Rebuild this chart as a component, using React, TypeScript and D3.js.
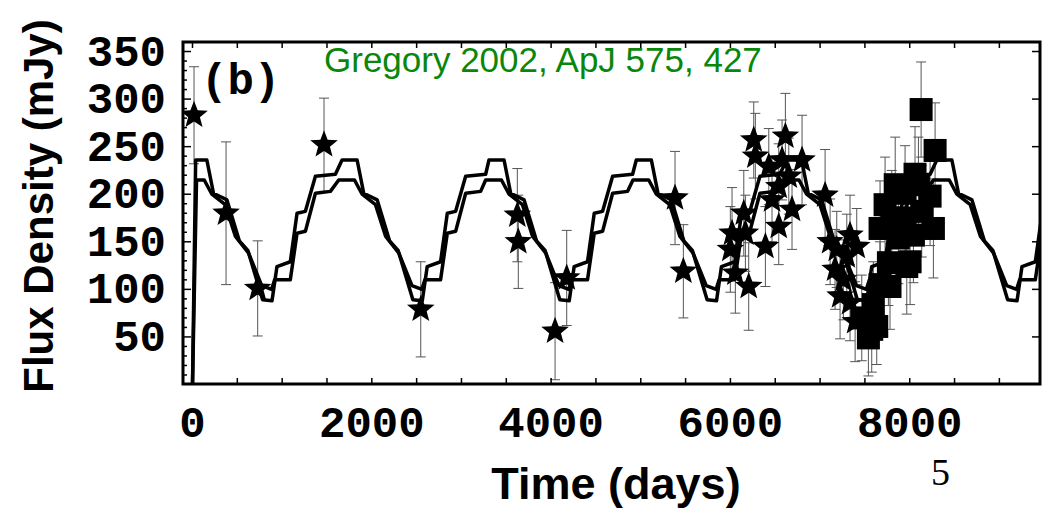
import React from "react";
import * as d3 from "d3";

// ---- data ----
// model curve A (larger amplitude): [time (days), flux (mJy)]
const modelA: [number, number][] = [
  [0, 0], [35, 236], [160, 236], [234, 201], [384, 194], [522, 151], [617, 141], [782, 89], [887, 88], [942, 124], [1091, 129], [1166, 180], [1259, 182], [1371, 219], [1594, 221],
  [1668, 236], [1836, 236], [1910, 201], [2060, 194], [2198, 151], [2293, 141], [2458, 89], [2563, 88], [2618, 124], [2767, 129], [2842, 180], [2935, 182], [3047, 219], [3270, 221],
  [3307, 236], [3475, 236], [3549, 201], [3699, 194], [3837, 151], [3932, 141], [4097, 89], [4202, 88], [4257, 124], [4406, 129], [4481, 180], [4574, 182], [4686, 219], [4909, 221],
  [4950, 236], [5118, 236], [5192, 201], [5342, 194], [5480, 151], [5575, 141], [5740, 89], [5845, 88], [5900, 124], [6049, 129], [6124, 180], [6217, 182], [6329, 219], [6552, 221],
  [6626, 236], [6794, 236], [6868, 201], [7018, 194], [7156, 151], [7251, 141], [7416, 89], [7521, 88], [7576, 124], [7725, 129], [7800, 180], [7893, 182], [8005, 219], [8228, 221],
  [8302, 236], [8470, 236], [8544, 201], [8694, 194], [8832, 151], [8927, 141], [9092, 89], [9197, 88], [9252, 124], [9401, 129], [9476, 180],
];

// model curve B (smaller amplitude)
const modelB: [number, number][] = [
  [0, 0], [45, 215], [131, 215], [216, 200], [365, 189], [477, 156], [626, 138], [772, 104], [882, 100], [916, 110], [1091, 110], [1166, 159], [1259, 161], [1371, 201], [1538, 203],
  [1631, 215], [1807, 215], [1892, 200], [2041, 189], [2153, 156], [2302, 138], [2448, 104], [2558, 100], [2592, 110], [2767, 110], [2842, 159], [2935, 161], [3047, 201], [3214, 203],
  [3270, 215], [3446, 215], [3531, 200], [3680, 189], [3792, 156], [3941, 138], [4087, 104], [4197, 100], [4231, 110], [4406, 110], [4481, 159], [4574, 161], [4686, 201], [4853, 203],
  [4913, 215], [5089, 215], [5174, 200], [5323, 189], [5435, 156], [5584, 138], [5730, 104], [5840, 100], [5874, 110], [6049, 110], [6124, 159], [6217, 161], [6329, 201], [6496, 203],
  [6589, 215], [6765, 215], [6850, 200], [6999, 189], [7111, 156], [7260, 138], [7406, 104], [7516, 100], [7550, 110], [7725, 110], [7800, 159], [7893, 161], [8005, 201], [8172, 203],
  [8265, 215], [8441, 215], [8526, 200], [8675, 189], [8787, 156], [8936, 138], [9082, 104], [9192, 100], [9226, 110], [9401, 110], [9476, 159],
];

// star observations: [time, flux, error]
const starData: [number, number, number][] = [
  [17, 283, 51], [374, 180, 75], [727, 101, 50], [1467, 252, 49], [2546, 79, 50],
  [3623, 178, 49], [3634, 150, 49], [4044, 56, 51], [4174, 112, 50], [5382, 196, 49], [5475, 119, 49],
  [5999, 142, 45], [6018, 159, 48], [6055, 117, 42], [6149, 180, 45], [6167, 159, 40], [6204, 103, 46],
  [6260, 257, 40], [6278, 240, 45], [6390, 145, 42], [6428, 229, 40], [6464, 194, 44], [6539, 208, 45],
  [6539, 166, 40], [6576, 236, 42], [6613, 261, 45], [6651, 219, 40], [6687, 184, 42], [6799, 236, 47],
  [7056, 199, 48], [7112, 150, 45], [7167, 121, 42], [7186, 142, 40], [7223, 93, 45], [7260, 110, 42],
  [7298, 135, 44], [7334, 157, 42], [7334, 86, 40], [7391, 66, 42], [7409, 145, 40],
];

// square observations: [time, flux, error]
const squareData: [number, number, number][] = [
  [7465, 70, 45], [7539, 49, 40], [7576, 58, 45], [7594, 84, 45], [7632, 61, 40], [7669, 105, 45],
  [7669, 164, 50], [7725, 189, 50], [7762, 128, 45], [7780, 103, 45], [7800, 175, 50], [7838, 210, 50],
  [7873, 154, 48], [7948, 201, 50], [7948, 175, 45], [7967, 124, 50], [8004, 129, 45], [8041, 157, 50],
  [8059, 221, 50], [8097, 210, 50], [8127, 289, 50], [8134, 182, 48], [8227, 198, 52], [8264, 164, 52],
  [8283, 246, 50],
];

const xTickLabels = [0, 2000, 4000, 6000, 8000];
const yTickLabels = [50, 100, 150, 200, 250, 300, 350];

// ---- layout ----
const W = 1047;
const H = 511;
const L = 183, R = 1040, T = 42, B = 384;

function starPath(cx: number, cy: number, ro: number, ri: number) {
  const pts: string[] = [];
  for (let i = 0; i < 10; i++) {
    const r = i % 2 === 0 ? ro : ri;
    const a = -Math.PI / 2 + (i * Math.PI) / 5;
    pts.push(`${(cx + r * Math.cos(a)).toFixed(2)},${(cy + r * Math.sin(a)).toFixed(2)}`);
  }
  return "M" + pts.join("L") + "Z";
}

export default function App() {
  const x = d3.scaleLinear().domain([-106, 9453]).range([L, R]);
  const y = d3.scaleLinear().domain([0, 360]).range([384.5, T]);
  const line = d3
    .line<[number, number]>()
    .x((d) => x(d[0]))
    .y((d) => y(d[1]));

  const minorX = d3.range(0, 9001, 500);
  const minorY = d3.range(10, 351, 10);
  const majorY = d3.range(50, 351, 50);

  const mono = "'Liberation Mono', 'DejaVu Sans Mono', monospace";
  const sans = "'Liberation Sans', Arial, sans-serif";

  const errBar = (d: [number, number, number], i: number, key: string) => {
    const cx = x(d[0]);
    const y1 = y(d[1] + d[2]);
    const y2 = y(Math.max(d[1] - d[2], 0));
    return (
      <g key={key + i} stroke="#555" strokeWidth={1}>
        <line x1={cx} x2={cx} y1={y1} y2={y2} />
        <line x1={cx - 5} x2={cx + 5} y1={y1} y2={y1} />
        <line x1={cx - 5} x2={cx + 5} y1={y2} y2={y2} />
      </g>
    );
  };

  return (
    <svg
      width={W}
      height={H}
      style={{ position: "absolute", left: 0, top: 0, background: "#fff" }}
    >
      <defs>
        <clipPath id="plot">
          <rect x={L} y={T} width={R - L} height={B - T} />
        </clipPath>
      </defs>
      <rect x={0} y={0} width={W} height={H} fill="#fff" />

      {/* error bars */}
      <g clipPath="url(#plot)">
        {starData.map((d, i) => errBar(d, i, "se"))}
        {squareData.map((d, i) => errBar(d, i, "qe"))}
      </g>

      {/* model curves */}
      <g clipPath="url(#plot)" fill="none" stroke="#000" strokeWidth={3.5} strokeLinejoin="round">
        <path d={line(modelA) || ""} />
        <path d={line(modelB) || ""} />
      </g>

      {/* markers */}
      <g clipPath="url(#plot)" fill="#000">
        {starData.map((d, i) => (
          <path key={"s" + i} d={starPath(x(d[0]), y(d[1]), 14.5, 6.2)} />
        ))}
        {squareData.map((d, i) => (
          <rect key={"q" + i} x={x(d[0]) - 11.5} y={y(d[1]) - 11.5} width={23} height={23} />
        ))}
      </g>

      {/* ticks */}
      <g stroke="#000" strokeWidth={1.5}>
        {minorX.map((t) => (
          <g key={"xt" + t}>
            <line x1={x(t)} x2={x(t)} y1={B} y2={B - 6} />
            <line x1={x(t)} x2={x(t)} y1={T} y2={T + 6} />
          </g>
        ))}
        {minorY.map((v) => (
          <line key={"ym" + v} x1={L} x2={L + (v % 50 === 0 ? 8 : 4)} y1={y(v)} y2={y(v)} />
        ))}
        {majorY.map((v) => (
          <line key={"yr" + v} x1={R} x2={R - 8} y1={y(v)} y2={y(v)} />
        ))}
      </g>

      {/* frame */}
      <rect x={L} y={T} width={R - L} height={B - T} fill="none" stroke="#000" strokeWidth={3} />

      {/* tick labels */}
      <g fontFamily={mono} fontWeight="bold" fontSize={44} fill="#000">
        {xTickLabels.map((t) => (
          <text key={"xl" + t} x={x(t)} y={437} textAnchor="middle">
            {t}
          </text>
        ))}
        {yTickLabels.map((v) => (
          <text key={"yl" + v} x={166} y={y(v) + 14} textAnchor="end">
            {v}
          </text>
        ))}
      </g>

      {/* panel label */}
      <text x={201} y={94} fontFamily={mono} fontWeight="bold" fontSize={44} fill="#000">
        (b)
      </text>

      {/* axis titles */}
      <text
        transform="translate(53,206) rotate(-90)"
        textAnchor="middle"
        fontFamily={sans}
        fontWeight="bold"
        fontSize={42}
        fill="#000"
      >
        Flux Density (mJy)
      </text>
      <text x={616} y={499} textAnchor="middle" fontFamily={sans} fontWeight="bold" fontSize={45} fill="#000">
        Time (days)
      </text>

      {/* citation */}
      <text x={324} y={72} fontFamily={sans} fontSize={35} fill="#0a870a">
        Gregory 2002, ApJ 575, 427
      </text>

      {/* page number */}
      <text x={931} y={485} fontFamily="'Liberation Serif', 'Times New Roman', serif" fontSize={38} fill="#000">
        5
      </text>
    </svg>
  );
}
